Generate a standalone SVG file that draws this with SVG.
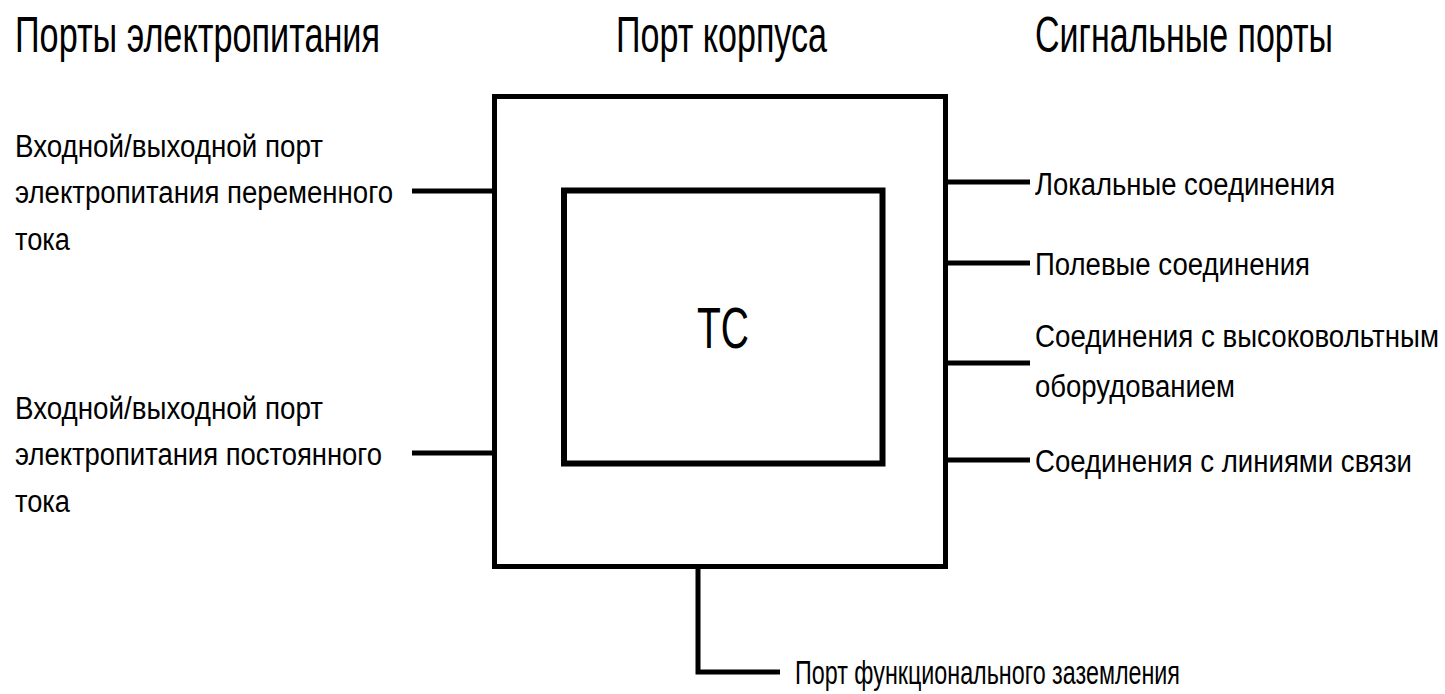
<svg xmlns="http://www.w3.org/2000/svg" width="1445" height="694" viewBox="0 0 1445 694">
<style>
.h{font-family:"Liberation Sans",Arial,sans-serif;font-size:50px;fill:#000}
.t{font-family:"Liberation Sans",Arial,sans-serif;font-size:31px;fill:#000}
.g{font-family:"Liberation Sans",Arial,sans-serif;font-size:33px;fill:#000}
.c{font-family:"Liberation Sans",Arial,sans-serif;font-size:58px;fill:#000}
.box{fill:none;stroke:#000;stroke-width:5}
.ln{fill:none;stroke:#000;stroke-width:5}
</style>
<rect width="1445" height="694" fill="#fff"/>
<g id="headings">
<text class="h" x="15" y="52" textLength="365" lengthAdjust="spacingAndGlyphs">Порты электропитания</text>
<text class="h" x="616" y="52" textLength="211" lengthAdjust="spacingAndGlyphs">Порт корпуса</text>
<text class="h" x="1035" y="52" textLength="298" lengthAdjust="spacingAndGlyphs">Сигнальные порты</text>
</g>
<g id="enclosure">
<rect class="box" x="494.5" y="96.5" width="451" height="470"/>
</g>
<g id="tc">
<rect class="box" x="564" y="190.5" width="318.5" height="273" style="stroke-width:6"/>
<text class="c" x="697" y="348" textLength="52" lengthAdjust="spacingAndGlyphs">TC</text>
</g>
<g id="connectors">
<path class="ln" d="M412 191H494M412 453H494"/>
<path class="ln" d="M946 182H1030M946 263H1030M946 363H1030M946 460H1030"/>
<path class="ln" d="M698 567V672H780"/>
</g>
<g id="ac-port">
<text class="t" x="15" y="157" textLength="308" lengthAdjust="spacingAndGlyphs">Входной/выходной порт</text>
<text class="t" x="15" y="203" textLength="378" lengthAdjust="spacingAndGlyphs">электропитания переменного</text>
<text class="t" x="15" y="250" textLength="55" lengthAdjust="spacingAndGlyphs">тока</text>
</g>
<g id="dc-port">
<text class="t" x="15" y="419" textLength="308" lengthAdjust="spacingAndGlyphs">Входной/выходной порт</text>
<text class="t" x="15" y="465" textLength="367" lengthAdjust="spacingAndGlyphs">электропитания постоянного</text>
<text class="t" x="15" y="512" textLength="55" lengthAdjust="spacingAndGlyphs">тока</text>
</g>
<g id="local">
<text class="t" x="1035" y="195" textLength="300" lengthAdjust="spacingAndGlyphs">Локальные соединения</text>
</g>
<g id="field">
<text class="t" x="1035" y="275" textLength="275" lengthAdjust="spacingAndGlyphs">Полевые соединения</text>
</g>
<g id="hv">
<text class="t" x="1035" y="347" textLength="404" lengthAdjust="spacingAndGlyphs">Соединения с высоковольтным</text>
<text class="t" x="1035" y="397" textLength="200" lengthAdjust="spacingAndGlyphs">оборудованием</text>
</g>
<g id="telecom">
<text class="t" x="1035" y="472" textLength="377" lengthAdjust="spacingAndGlyphs">Соединения с линиями связи</text>
</g>
<g id="ground">
<text class="g" x="795" y="684" textLength="385" lengthAdjust="spacingAndGlyphs">Порт функционального заземления</text>
</g>
</svg>
